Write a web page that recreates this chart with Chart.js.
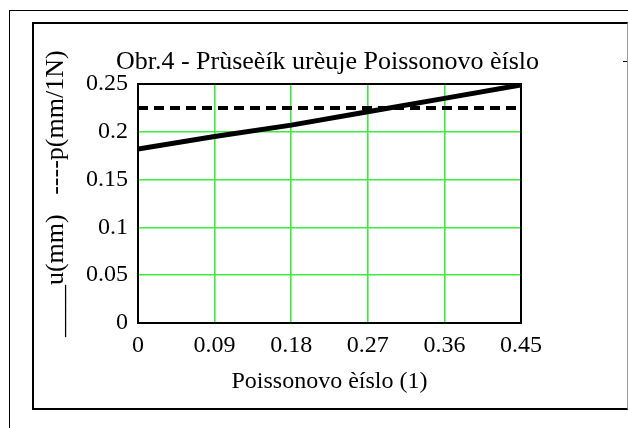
<!DOCTYPE html>
<html>
<head>
<meta charset="utf-8">
<script src="https://cdn.jsdelivr.net/npm/chart.js@4"></script>
<style>
    body { margin: 0; background: #fff; }
    #wrap { position: relative; width: 628px; height: 428px; overflow: hidden; }
    .outer { position: absolute; left: 9px; top: 10px; width: 700px; height: 500px;
             border-left: 1px solid #000; border-top: 1px solid #000; }
    .inner { position: absolute; left: 32px; top: 22px; width: 596px; height: 388px; box-sizing: border-box;
             border: 2px solid #000; border-right: 1px solid #999; }
    .mark { position: absolute; left: 623px; top: 61px; width: 4px; height: 1px; background: #000; }
    #chart-box { position: absolute; left: 0; top: 0; width: 628px; height: 428px; }
</style>
</head>
<body>
<div id="wrap">
    <div class="outer"></div>
    <div class="inner"></div>
    <div class="mark"></div>
    <div id="chart-box"><canvas id="poisson-chart"></canvas></div>
</div>
<script>
const poisson = [0, 0.09, 0.18, 0.27, 0.36, 0.45];
const uValues = [0.182, 0.195, 0.207, 0.221, 0.235, 0.249];
const pValues = [0.225, 0.225, 0.225, 0.225, 0.225, 0.225];
const xTickLabels = ['0', '0.09', '0.18', '0.27', '0.36', '0.45'];
const yTickLabels = ['0', '0.05', '0.1', '0.15', '0.2', '0.25'];
const chartTitle = 'Obr.4 - Prùseèík urèuje Poissonovo èíslo';

const serif = 'Liberation Serif';
const gridGreen = '#3aee3a';

// black frame round the plot area + title centred over it (the built-in title squeezes the text)
const plotFrame = {
    id: 'plotFrame',
    afterDatasetsDraw(chart) {
        const { ctx, chartArea: a } = chart;
        ctx.save();
        ctx.strokeStyle = '#000';
        ctx.lineWidth = 2;
        ctx.strokeRect(a.left, a.top, a.right - a.left, a.bottom - a.top);

        ctx.fillStyle = '#000';
        ctx.font = '26px "' + serif + '"';
        ctx.textAlign = 'center';
        ctx.textBaseline = 'middle';
        ctx.fillText(chartTitle, (a.left + a.right) / 2 - 2, a.top - 22);
        ctx.restore();
    }
};

function renderChart() {
    const ctx = document.getElementById('poisson-chart').getContext('2d');

    new Chart(ctx, {
        type: 'line',
        data: {
            datasets: [{
                label: 'u(mm)',
                data: poisson.map((x, i) => ({ x: x, y: uValues[i] })),
                borderColor: '#000',
                borderWidth: 5,
                pointRadius: 0,
                tension: 0
            }, {
                label: 'p(mm/1N)',
                data: poisson.map((x, i) => ({ x: x, y: pValues[i] })),
                borderColor: '#000',
                borderWidth: 4,
                borderDash: [10, 6],
                pointRadius: 0,
                tension: 0
            }]
        },
        options: {
            responsive: true,
            maintainAspectRatio: false,
            animation: false,
            layout: { padding: { left: 36, top: 84, right: 107, bottom: 20 } },
            plugins: {
                legend: { display: false },
                tooltip: { enabled: false },
                title: { display: false }
            },
            scales: {
                x: {
                    type: 'linear',
                    min: 0,
                    max: 0.45,
                    afterFit: scale => { scale.height = 85; },
                    afterBuildTicks: scale => {
                        scale.ticks = poisson.map(v => ({ value: v }));
                    },
                    ticks: {
                        color: '#000',
                        padding: 8,
                        maxRotation: 0,
                        font: { family: serif, size: 24 },
                        callback: (value, index) => xTickLabels[index]
                    },
                    grid: { color: gridGreen, lineWidth: 1.6, drawTicks: false },
                    border: { display: false },
                    title: {
                        display: true,
                        text: 'Poissonovo èíslo (1)',
                        color: '#000',
                        font: { family: serif, size: 24 },
                        padding: { top: 0, bottom: 12 }
                    }
                },
                y: {
                    min: 0,
                    max: 0.25,
                    afterFit: scale => { scale.width = 102; },
                    ticks: {
                        color: '#000',
                        padding: 10,
                        stepSize: 0.05,
                        font: { family: serif, size: 24 },
                        callback: (value, index) => yTickLabels[index]
                    },
                    grid: { color: gridGreen, lineWidth: 1.6, drawTicks: false },
                    border: { display: false },
                    title: {
                        display: true,
                        text: '   ____u(mm)   ----p(mm/1N)',
                        color: '#000',
                        font: { family: serif, size: 26 },
                        padding: { top: 5, bottom: 0 }
                    }
                }
            }
        },
        plugins: [plotFrame]
    });
}

document.addEventListener('DOMContentLoaded', renderChart);
</script>
</body>
</html>
